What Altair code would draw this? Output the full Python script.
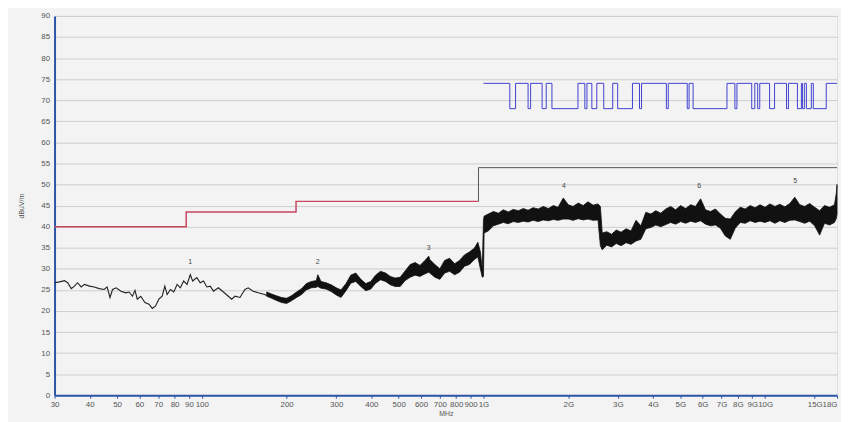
import altair as alt
import pandas as pd

# ---- low-frequency trace (MHz, dBuV/m) ----
low_f = [30, 31.24, 32.54, 33.4, 34.4, 35.3, 36.2, 37.3, 38.3, 39.9,
         41.5, 43.2, 45.0, 46.1, 47.2, 48.2, 49.7, 51.6, 53.7, 55.2,
         56.7, 57.9, 59.0, 60.7, 62.8, 64.9, 66.7, 68.5, 70.4, 72.3,
         73.9, 75.3, 77.4, 79.5, 81.7, 83.9, 86.2, 88.6, 91.0, 92.8,
         96.0, 98.7, 101.4, 104.2, 107.1, 110.0, 114.5, 119.3, 124.2, 127.6,
         131.2, 136.6, 142.3, 146.1, 152.2, 158.5, 167.4, 170]
low_v = [26.7, 26.9, 27.2, 26.7, 25.3, 25.9, 26.7, 25.7, 26.3, 25.9,
         25.7, 25.3, 25.1, 25.7, 23.2, 25.1, 25.5, 24.7, 24.3, 24.5,
         23.5, 24.9, 22.8, 23.5, 22.0, 21.6, 20.6, 21.2, 22.8, 23.5,
         25.9, 23.9, 25.1, 24.5, 26.3, 25.5, 27.1, 26.3, 28.6, 27.1,
         27.9, 26.7, 27.1, 25.7, 25.9, 24.7, 25.5, 24.5, 23.5, 22.8,
         23.5, 23.2, 25.1, 25.5, 24.7, 24.3, 23.9, 23.6]

# ---- noise band envelope above 170 MHz ----
band_f = [170, 177, 184, 192, 200, 208, 217, 226, 235, 245,
          255, 258, 265, 276, 288, 300, 312, 325, 338, 352,
          367, 382, 398, 414, 431, 449, 467, 486, 506, 527,
          549, 572, 595, 620, 639, 645, 672, 700, 728, 758,
          790, 822, 856, 891, 928, 955, 975, 990, 1000, 1005,
          1040, 1085, 1130, 1175, 1225, 1275, 1330, 1385, 1440, 1500,
          1565, 1630, 1700, 1770, 1840, 1920, 2000, 2080, 2170, 2260,
          2350, 2450, 2550, 2600, 2640, 2740, 2850, 2960, 3080, 3210,
          3340, 3480, 3620, 3770, 3930, 4090, 4260, 4440, 4620, 4810,
          5010, 5220, 5440, 5660, 5900, 6140, 6400, 6660, 6940, 7220,
          7520, 7830, 8160, 8500, 8850, 9210, 9590, 9990, 10400, 10830,
          11280, 11750, 12240, 12740, 13270, 13820, 14390, 14990, 15610, 16250,
          16930, 17630, 17900, 18000]
band_hi = [24.5, 24.0, 23.6, 23.2, 23.0, 23.6, 24.5, 25.3, 26.5, 27.0,
           27.2, 28.6, 27.0, 26.7, 26.2, 25.5, 25.0, 26.5, 28.5, 29.0,
           27.5, 26.5, 27.0, 28.5, 29.4, 29.0, 28.2, 27.8, 28.0, 29.5,
           31.0, 31.5, 30.8, 32.0, 33.0, 32.2, 31.0, 30.0, 32.0, 32.5,
           31.2, 32.0, 33.3, 34.0, 34.9, 36.3, 34.0, 30.0, 41.5, 42.5,
           43.0, 43.6, 43.2, 44.0, 43.5, 44.1, 43.8, 44.3, 43.9, 44.5,
           44.2, 44.8, 44.3, 45.0, 44.6, 46.8, 45.2, 44.8, 45.6, 45.0,
           45.9, 45.1, 45.4, 44.8, 38.5, 38.8, 38.2, 39.2, 38.7, 39.5,
           39.0, 41.5, 40.2, 43.4, 43.0, 43.8, 43.2, 44.2, 44.8, 44.0,
           45.0, 44.3, 45.2, 44.8, 46.6, 44.0, 43.6, 44.2, 43.0, 42.0,
           41.8, 43.5, 44.6, 44.2, 45.0, 44.5, 45.2, 44.6, 45.4, 44.8,
           45.3, 44.7, 45.5, 47.0, 45.2, 44.8, 45.5, 44.6, 43.8, 45.0,
           44.6, 45.2, 48.0, 50.0]
band_lo = [23.5, 23.0, 22.5, 22.0, 21.8, 22.4, 23.2, 23.9, 25.0, 25.5,
           25.6, 25.8, 25.4, 25.2, 24.6, 23.8, 23.2, 24.8, 26.6, 27.0,
           25.8, 24.8, 25.2, 26.6, 27.4, 27.0, 26.2, 25.8, 25.8, 27.2,
           28.0, 28.5, 28.2, 28.8, 29.2, 29.0, 28.0, 27.5, 29.0, 29.4,
           28.6, 29.2, 30.6, 31.0, 32.2, 32.8, 30.0, 28.0, 28.2, 38.5,
           39.0, 40.2, 40.6, 41.0, 40.7, 41.2, 41.0, 41.3, 41.1, 41.5,
           41.2, 41.6, 41.4, 41.7, 41.5, 41.8, 41.8, 41.5, 41.9, 41.6,
           41.8, 41.5, 41.6, 35.5, 34.5, 35.6, 35.2, 36.0, 35.5, 36.2,
           35.8, 36.6, 37.0, 39.5, 39.8, 40.4, 40.0, 40.5, 41.0, 40.6,
           41.2, 40.8, 41.3, 41.0, 41.4, 40.6, 40.2, 40.4, 39.6, 37.8,
           37.0, 39.6, 41.0, 40.8, 41.4, 41.0, 41.3, 41.0, 41.4, 40.8,
           41.4, 41.0, 41.5, 41.6, 41.2, 40.8, 41.3, 40.2, 38.0, 40.8,
           40.4, 41.0, 42.0, 43.0]

# ---- limit lines ----
red_f = [30, 88, 216, 960]
red_v = [40, 43.5, 46, 46]
gray_f = [960, 960, 18000]
gray_v = [46, 54, 54]

# ---- blue trace (step) ----
blue_f = [1000, 1240, 1300, 1440, 1470, 1615, 1670, 1750, 2165, 2290,
          2330, 2425, 2525, 2673, 2876, 2995, 3380, 3580, 3640, 4460,
          4530, 5290, 5370, 5550, 7320, 7810, 7940, 8960, 9190, 9410,
          9570, 10370, 10800, 11910, 12100, 13020, 13450, 13560, 13780, 14010,
          14590, 14830, 16480, 18000]
blue_v = [74, 68, 74, 68, 74, 68, 74, 68, 74, 68,
          74, 68, 74, 68, 74, 68, 74, 68, 74, 68,
          74, 68, 74, 68, 74, 68, 74, 68, 74, 68,
          74, 68, 74, 68, 74, 68, 74, 68, 74, 68,
          74, 68, 74, 74]

# ---- markers ----
mk_f = [91, 258, 639, 1932, 12778, 5827]
mk_v = [30.8, 30.8, 34.3, 49.0, 50.2, 49.0]
mk_t = ["1", "2", "3", "4", "5", "6"]

# ---- axis ticks ----
x_ticks = [30, 40, 50, 60, 70, 80, 90, 100, 200, 300, 400, 500, 600, 700, 800, 900,
           1000, 2000, 3000, 4000, 5000, 6000, 7000, 8000, 9000, 10000, 15000, 18000]
y_ticks = [0, 5, 10, 15, 20, 25, 30, 35, 40, 45, 50, 55, 60, 65, 70, 75, 80, 85, 90]

low_df = pd.DataFrame({"f": low_f, "v": low_v})
band_df = pd.DataFrame({"f": band_f, "v": band_hi, "v2": band_lo})
red_df = pd.DataFrame({"f": red_f, "v": red_v})
gray_df = pd.DataFrame({"f": gray_f, "v": gray_v, "i": list(range(len(gray_f)))})
blue_df = pd.DataFrame({"f": blue_f, "v": blue_v})
mk_df = pd.DataFrame({"f": mk_f, "v": mk_v, "t": mk_t})

AXIS_BLUE = "#2a55a8"
xscale = alt.Scale(type="log", domain=[30, 18000], nice=False)
yscale = alt.Scale(domain=[0, 90], nice=False, zero=False)

xaxis = alt.Axis(
    values=x_ticks,
    labelExpr="datum.value >= 1000 ? format(datum.value/1000, 'd') + 'G' : format(datum.value, 'd')",
    labelAlign={"condition": {"test": "datum.value >= 18000", "value": "right"}, "value": "center"},
    title="MHz", grid=False, domainColor=AXIS_BLUE, domainWidth=2,
    tickColor=AXIS_BLUE, tickSize=3, labelFontSize=8, labelColor="#555",
    labelOverlap=False, labelFlush=False, labelPadding=2,
    titleFontSize=7, titleFontWeight="normal", titleColor="#555", titlePadding=1)
yaxis = alt.Axis(
    values=y_ticks, title="dBuV/m", grid=True, gridColor="#cdcdcd", gridWidth=1,
    domainColor=AXIS_BLUE, domainWidth=2, ticks=False,
    labelFontSize=8, labelColor="#555", labelPadding=5,
    titleFontSize=7, titleFontWeight="normal", titleColor="#555", titlePadding=16)

X = alt.X("f:Q", scale=xscale, axis=xaxis)
Y = alt.Y("v:Q", scale=yscale, axis=yaxis)

band = alt.Chart(band_df).mark_area(orient="vertical", fill="#111111", stroke="#111111",
                                    strokeWidth=0.8).encode(x=X, y=Y, y2="v2:Q")
low = alt.Chart(low_df).mark_line(color="#222222", strokeWidth=1.1).encode(x=X, y=Y)
red = alt.Chart(red_df).mark_line(color="#c9465f", strokeWidth=1.5,
                                  interpolate="step-after").encode(x=X, y=Y)
gray = alt.Chart(gray_df).mark_line(color="#555555", strokeWidth=1).encode(
    x=X, y=Y, order="i:Q")
blue = alt.Chart(blue_df).mark_line(color="#4040d0", strokeWidth=1,
                                    interpolate="step-after").encode(x=X, y=Y)
marks = alt.Chart(mk_df).mark_text(fontSize=7, color="#444444", baseline="bottom").encode(
    x=X, y=Y, text="t:N")

chart = alt.layer(band, low, red, gray, blue, marks).properties(
    width=790, height=383,
    padding={"left": 47, "top": 6, "right": 4, "bottom": 25},
    autosize=alt.AutoSizeParams(type="none"),
    background="#f3f3f3",
).configure_view(stroke="#9a9a9a", strokeWidth=1, fill="#fbfbfb").configure(
    font="Liberation Sans")

chart.save("out.html", embed_options={"renderer": "svg", "actions": False})
